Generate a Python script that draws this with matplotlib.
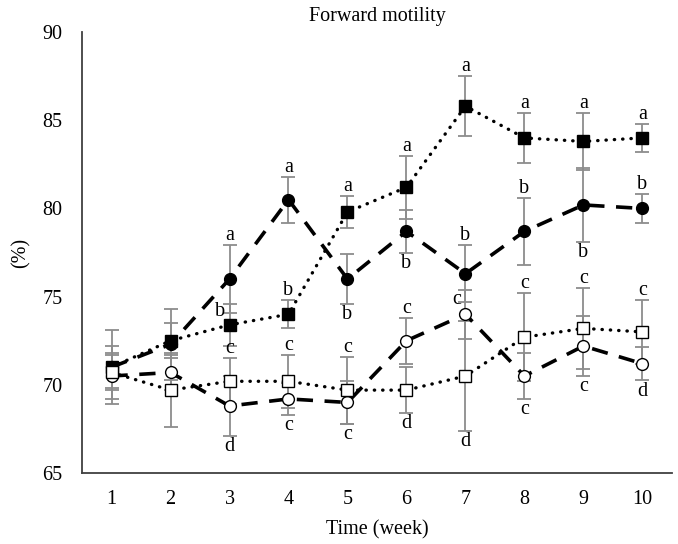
import numpy as np
import matplotlib
matplotlib.use('Agg')
import matplotlib.pyplot as plt

plt.rcParams['font.family'] = ['Liberation Serif', 'DejaVu Serif']

weeks = [1, 2, 3, 4, 5, 6, 7, 8, 9, 10]

# filled square, dotted
sq_f = [71.0, 72.5, 73.4, 74.0, 79.8, 81.2, 85.8, 84.0, 83.8, 84.0]
sq_f_err = [1.2, 1.0, 1.2, 0.8, 0.9, 1.8, 1.7, 1.4, 1.6, 0.8]
sq_f_lab = ['', '', 'b', 'b', 'a', 'a', 'a', 'a', 'a', 'a']
sq_f_pos = ['', '', 'l', 'u', 'u', 'u', 'u', 'u', 'u', 'u']

# filled circle, dashed
ci_f = [71.0, 72.3, 76.0, 80.5, 76.0, 78.7, 76.3, 78.7, 80.2, 80.0]
ci_f_err = [2.1, 2.0, 1.9, 1.3, 1.4, 1.2, 1.6, 1.9, 2.1, 0.8]
ci_f_lab = ['', '', 'a', 'a', 'b', 'b', 'b', 'b', 'b', 'b']
ci_f_pos = ['', '', 'u', 'u', 'd', 'd', 'u', 'u', 'd', 'u']

# open circle, dashed
ci_o = [70.5, 70.7, 68.8, 69.2, 69.0, 72.5, 74.0, 70.5, 72.2, 71.2]
ci_o_err = [1.3, 1.0, 1.7, 0.9, 1.2, 1.3, 1.4, 1.3, 1.7, 0.95]
ci_o_lab = ['', '', 'd', 'c', 'c', 'c', 'c', 'c', 'c', 'd']
ci_o_pos = ['', '', 'd', 'd', 'd', 'u', 'l', 'd', 'd', 'd']

# open square, dotted
sq_o = [70.7, 69.7, 70.2, 70.2, 69.7, 69.7, 70.5, 72.7, 73.2, 73.0]
sq_o_err = [1.0, 2.1, 1.3, 1.5, 1.9, 1.3, 3.1, 2.5, 2.3, 1.8]
sq_o_lab = ['', '', 'c', 'c', 'c', 'd', 'd', 'c', 'c', 'c']
sq_o_pos = ['', '', 'u', 'u', 'u', 'd', 'd', 'u', 'u', 'u']

fig = plt.figure(figsize=(6.78, 5.44), dpi=100)
ax = fig.add_axes([0.121, 0.1305, 0.870, 0.8105])

series = [
    (sq_f, sq_f_err, sq_f_lab, sq_f_pos, 's', 'black', 'dot'),
    (ci_f, ci_f_err, ci_f_lab, ci_f_pos, 'o', 'black', 'dash'),
    (ci_o, ci_o_err, ci_o_lab, ci_o_pos, 'o', 'white', 'dash'),
    (sq_o, sq_o_err, sq_o_lab, sq_o_pos, 's', 'white', 'dot'),
]

fs = 14.5
for vals, err, labs, pos, mk, fc, style in series:
    ax.errorbar(weeks, vals, yerr=err, fmt='none', ecolor='#8c8c8c',
                elinewidth=1.3, capsize=5, capthick=1.3, zorder=1)
    if style == 'dash':
        ax.plot(weeks, vals, color='black', lw=2.6, dashes=(4.5, 3.2),
                zorder=2)
    else:
        ax.plot(weeks, vals, color='black', lw=2.4, linestyle=(0, (0.1, 2.4)),
                dash_capstyle='round', zorder=2)
    ax.plot(weeks, vals, linestyle='none', marker=mk, ms=8.5,
            mfc=fc, mec='black', mew=1.0, zorder=3)
    for x, v, e, t, p in zip(weeks, vals, err, labs, pos):
        if not t:
            continue
        if p == 'u':
            ax.annotate(t, (x, v + e), xytext=(0, 0), textcoords='offset points',
                        ha='center', va='bottom', fontsize=fs)
        elif p == 'd':
            ax.annotate(t, (x, v - e), xytext=(0, -1), textcoords='offset points',
                        ha='center', va='top', fontsize=fs)
        else:
            # letter sits left of the bar
            ax.annotate(t, (x, v + e / 2), xytext=(-3, 2), textcoords='offset points',
                        ha='right', va='center', fontsize=fs)

ax.set_xlim(0.5, 10.5)
ax.set_ylim(65, 90)
ax.set_xticks(weeks)
ax.set_yticks([65, 70, 75, 80, 85, 90])
ax.tick_params(length=0, labelsize=fs, pad=12)
ax.tick_params(axis='y', pad=14)
for s in ['top', 'right']:
    ax.spines[s].set_visible(False)
for s in ['left', 'bottom']:
    ax.spines[s].set_color('#404040')
    ax.spines[s].set_linewidth(1.3)

ax.set_title('Forward motility', fontsize=fs, pad=8)
ax.set_xlabel('Time (week)', fontsize=fs, labelpad=8)
ax.set_ylabel('(%)', fontsize=fs)
ax.yaxis.set_label_coords(-0.088, 0.5)

fig.savefig('out.png', dpi=100)
